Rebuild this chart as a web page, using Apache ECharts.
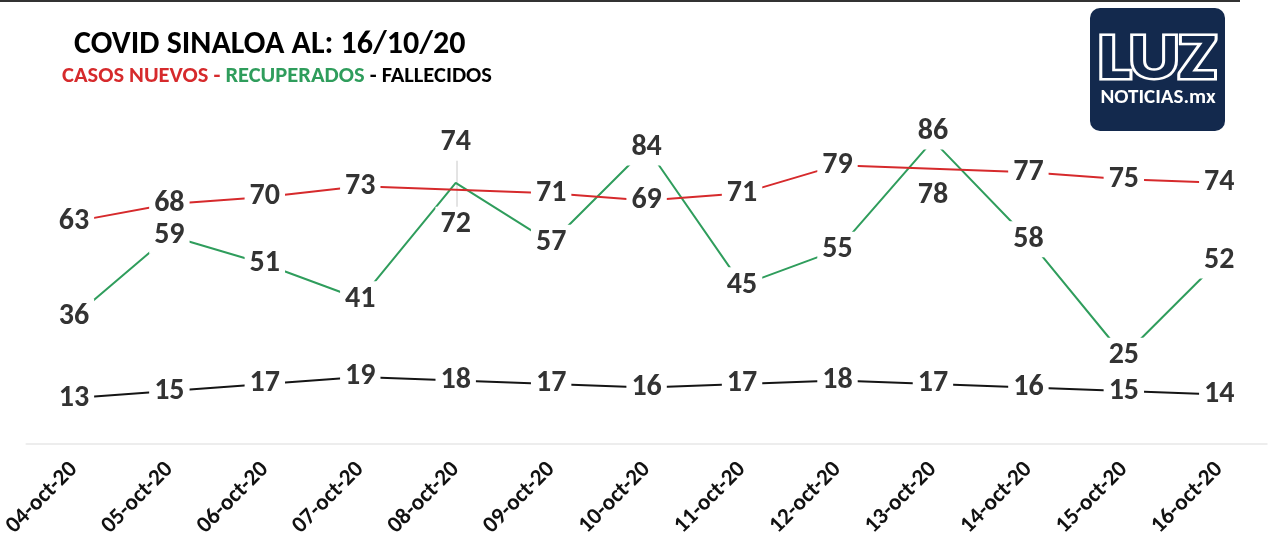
<!DOCTYPE html>
<html>
<head>
<meta charset="utf-8">
<script src="https://cdn.jsdelivr.net/npm/echarts@6/dist/echarts.min.js"></script>
<style>
html, body { margin: 0; padding: 0; background: #fff; }
#main { width: 1280px; height: 548px; }
</style>
</head>
<body>
<div id="main"></div>
<script>
var fechas = ['04-oct-20', '05-oct-20', '06-oct-20', '07-oct-20', '08-oct-20', '09-oct-20', '10-oct-20',
    '11-oct-20', '12-oct-20', '13-oct-20', '14-oct-20', '15-oct-20', '16-oct-20'];
var casosNuevos = [63, 68, 70, 73, 72, 71, 69, 71, 79, 78, 77, 75, 74];
var recuperados = [36, 59, 51, 41, 74, 57, 84, 45, 55, 86, 58, 25, 52];
var fallecidos = [13, 15, 17, 19, 18, 17, 16, 17, 18, 17, 16, 15, 14];

// labels moved off their point where two series meet
var corrCasos = { 4: 35, 9: 27 };
var corrRecup = { 4: -40, 9: -9 };

var ROJO = '#d62a2c';
var VERDE = '#2f9d5c';
var NEGRO = '#151515';
var fuente = 'Carlito, Lato, sans-serif';

function conEtiquetas(valores, corr) {
    return valores.map(function (v, i) {
        if (corr[i] === undefined) return v;
        return { value: v, label: { offset: [0, corr[i]] } };
    });
}

function lineaSerie(nombre, valores, color) {
    return {
        name: nombre,
        type: 'line',
        data: valores,
        symbol: 'none',
        z: 2,
        lineStyle: { color: color, width: 2 },
        itemStyle: { color: color }
    };
}

function etiquetas(valores, corr) {
    return {
        type: 'scatter',
        data: conEtiquetas(valores, corr),
        symbolSize: 0,
        z: 5,
        silent: true,
        itemStyle: { opacity: 1 },
        label: {
            show: true,
            position: 'inside',
            formatter: function (p) { return p.value; },
            color: '#333',
            fontFamily: fuente,
            fontWeight: 'bold',
            fontSize: 30,
            lineHeight: 30,
            backgroundColor: '#fff',
            padding: [3, 5]
        }
    };
}

var chart = echarts.init(document.getElementById('main'));
chart.setOption({
    animation: false,
    backgroundColor: '#fff',
    title: [{
        text: 'COVID SINALOA AL: 16/10/20',
        left: 69,
        top: 24,
        textStyle: { fontFamily: fuente, fontWeight: 'bold', fontSize: 32, color: '#000' }
    }, {
        text: '{r|CASOS NUEVOS - }{g|RECUPERADOS}{n| - FALLECIDOS}',
        left: 57,
        top: 60,
        textStyle: {
            rich: {
                r: { color: ROJO, fontFamily: fuente, fontWeight: 'bold', fontSize: 22.5 },
                g: { color: VERDE, fontFamily: fuente, fontWeight: 'bold', fontSize: 22.5 },
                n: { color: '#000', fontFamily: fuente, fontWeight: 'bold', fontSize: 22.5 }
            }
        }
    }],
    grid: { left: 25, right: 13, top: 91, bottom: 104 },
    xAxis: {
        type: 'category',
        data: fechas,
        boundaryGap: true,
        axisLine: { lineStyle: { color: '#e8e8e8', width: 1.5 } },
        axisTick: { show: false },
        axisLabel: {
            rotate: 45,
            margin: 22,
            color: '#111',
            fontFamily: fuente,
            fontWeight: 'bold',
            fontSize: 23
        }
    },
    yAxis: { type: 'value', min: 0, max: 100, show: false, splitLine: { show: false } },
    series: [
        lineaSerie('Fallecidos', fallecidos, NEGRO),
        lineaSerie('Recuperados', recuperados, VERDE),
        lineaSerie('Casos nuevos', casosNuevos, ROJO),
        etiquetas(fallecidos, {}),
        etiquetas(recuperados, corrRecup),
        etiquetas(casosNuevos, corrCasos)
    ],
    graphic: [
        { type: 'line', shape: { x1: 0, y1: 1, x2: 1240, y2: 1 }, style: { stroke: '#333', lineWidth: 2 } },
        { type: 'line', shape: { x1: 457, y1: 158, x2: 457, y2: 210 }, style: { stroke: '#c8c8c8', lineWidth: 1 }, z: 1 },
        { type: 'rect', shape: { x: 1090, y: 8, width: 135, height: 123, r: 10 }, style: { fill: '#13294d' } },
        {
            type: 'text', x: 1157, y: 62, scaleX: 1.2,
            style: {
                text: 'LUZ', fill: '#13294d', stroke: '#fff', lineWidth: 5,
                font: '900 64px ' + fuente, align: 'center', verticalAlign: 'middle'
            }
        },
        {
            type: 'text', x: 1158, y: 98,
            style: {
                text: 'NOTICIAS.mx', fill: '#fff',
                font: 'bold 21px ' + fuente, align: 'center', verticalAlign: 'middle'
            }
        }
    ]
});
</script>
</body>
</html>
